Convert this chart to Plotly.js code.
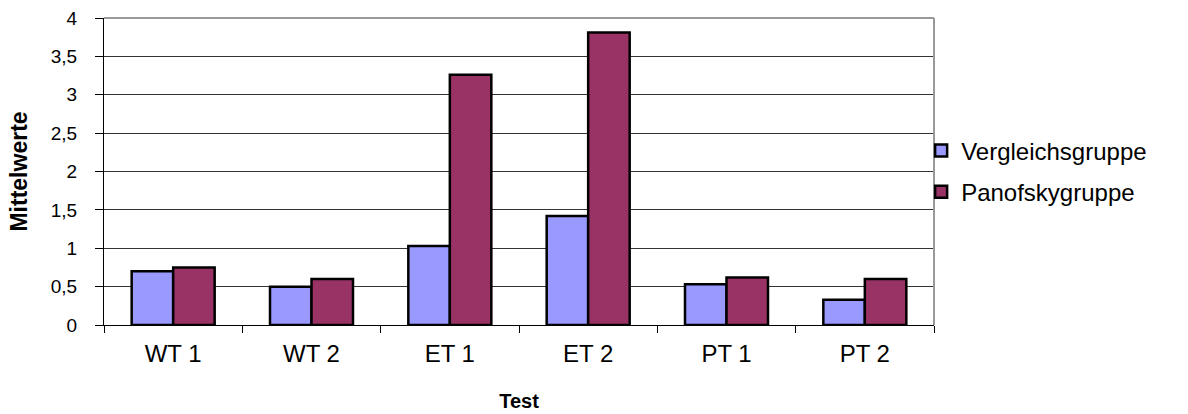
<!DOCTYPE html>
<html>
<head>
<meta charset="utf-8">
<script src="https://cdn.plot.ly/plotly-3.0.1.min.js"></script>
<style>html,body{margin:0;padding:0;background:#fff;}#chart{width:1188px;height:414px;}</style>
</head>
<body>
<div id="chart"></div>
<script>
const categories = ["WT 1", "WT 2", "ET 1", "ET 2", "PT 1", "PT 2"];
const vergleichsgruppe = [0.70, 0.50, 1.03, 1.42, 0.53, 0.33];
const panofskygruppe = [0.75, 0.60, 3.26, 3.81, 0.62, 0.60];
const seriesNames = ["Vergleichsgruppe", "Panofskygruppe"];
const yTicks = [0, 0.5, 1, 1.5, 2, 2.5, 3, 3.5, 4];

const font = "Liberation Sans, Arial, sans-serif";
const traces = [
  {type: "bar", name: seriesNames[0], legendgroup: "a", x: categories, y: vergleichsgruppe,
   marker: {color: "#9999FF", line: {color: "#000000", width: 2.5}}},
  {type: "bar", name: seriesNames[1], legendgroup: "b", x: categories, y: panofskygruppe,
   marker: {color: "#993366", line: {color: "#000000", width: 2.5}}}
];
const layout = {
  width: 1188, height: 414,
  margin: {l: 104, r: 254, t: 18, b: 89},
  paper_bgcolor: "#ffffff", plot_bgcolor: "#ffffff",
  font: {family: font, size: 17, color: "#000000"},
  separators: ",.",
  barmode: "group", bargap: 0.40, bargroupgap: 0,
  showlegend: true,
  legend: {x: 0.9845, xanchor: "left", y: 0.5, yanchor: "middle", bgcolor: "rgba(0,0,0,0)",
           traceorder: "grouped", tracegroupgap: 7,
           font: {family: font, size: 24, color: "#000"}, itemwidth: 30},
  xaxis: {type: "category", showline: true, linecolor: "#000", linewidth: 1,
          ticks: "outside", tickson: "boundaries", ticklen: 7, tickcolor: "#000",
          showgrid: false, tickfont: {size: 24}, ticklabelstandoff: 7,
          title: {text: "<b>Test</b>", font: {size: 20}, standoff: 28}},
  yaxis: {range: [0, 4], tickvals: yTicks, ticktext: yTicks.map(v => String(v).replace(".", ",")),
          showline: true, linecolor: "#000", linewidth: 1,
          ticks: "outside", ticklen: 8, tickcolor: "#000", ticklabelstandoff: 14,
          showgrid: true, gridcolor: "#333333", gridwidth: 1, zeroline: false,
          tickfont: {size: 19},
          title: {text: "<b>Mittelwerte</b>", font: {size: 23}, standoff: 16}},
  shapes: [
    {type: "line", xref: "paper", yref: "paper", x0: 0, x1: 1, y0: 1, y1: 1, line: {color: "#999999", width: 2}},
    {type: "line", xref: "paper", yref: "paper", x0: 1, x1: 1, y0: 0, y1: 1, line: {color: "#999999", width: 2}}
  ]
};
Plotly.newPlot("chart", traces, layout, {displayModeBar: false, staticPlot: true});
</script>
</body>
</html>
